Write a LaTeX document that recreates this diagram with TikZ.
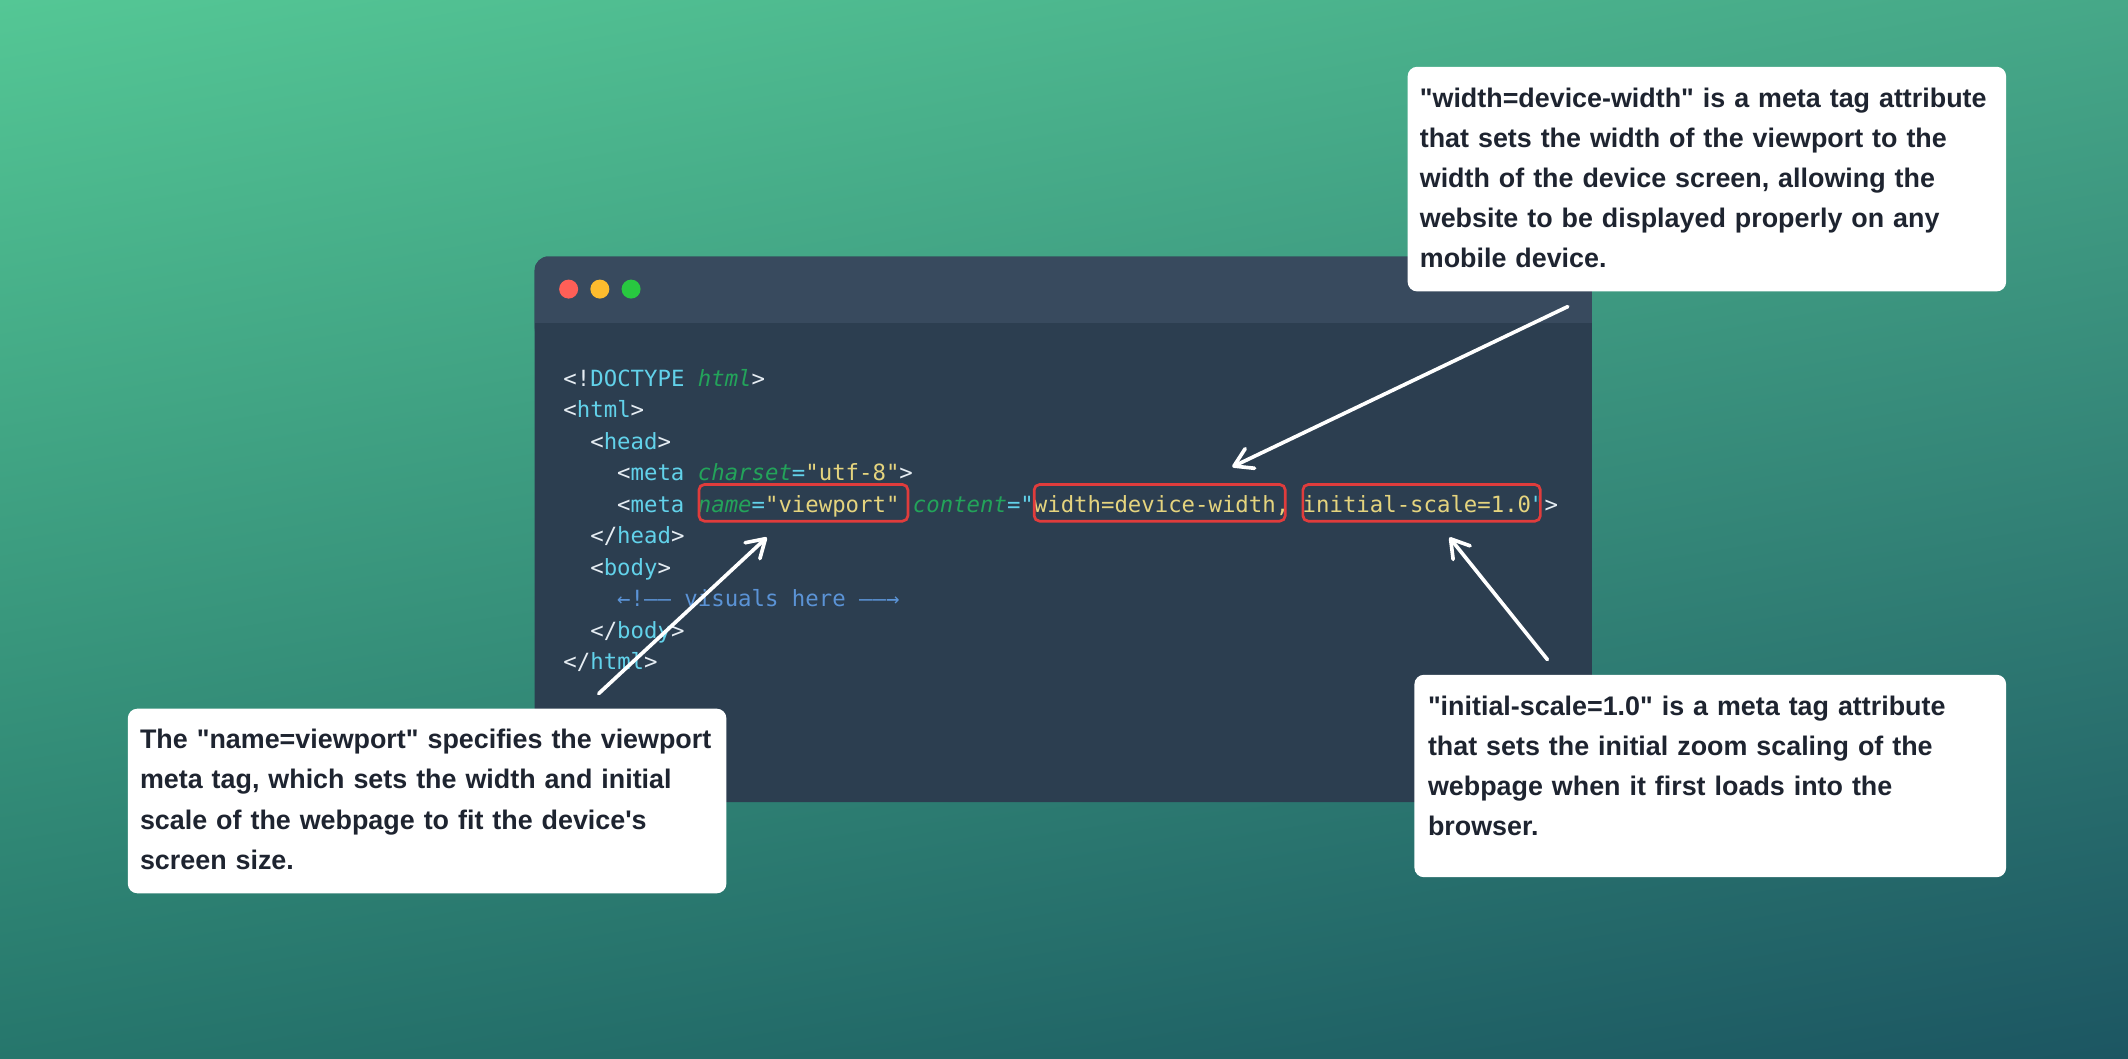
\documentclass[tikz,border=0pt]{standalone}
\usepackage{fontspec}
\usetikzlibrary{arrows.meta,shadings}

\newfontfamily\codefont{DejaVu Sans Mono}
\newfontfamily\notefont{Liberation Sans}

\definecolor{bgTL}{RGB}{84,199,149}
\definecolor{bgTR}{RGB}{70,168,136}
\definecolor{bgBL}{RGB}{38,118,108}
\definecolor{bgBR}{RGB}{28,86,98}
\definecolor{wintitle}{RGB}{56,74,94}
\definecolor{winbody}{RGB}{44,62,80}
\definecolor{dotred}{RGB}{255,95,87}
\definecolor{dotyellow}{RGB}{254,188,46}
\definecolor{dotgreen}{RGB}{40,200,64}
\definecolor{codepun}{RGB}{230,237,243}
\definecolor{codetag}{RGB}{98,210,234}
\definecolor{codeattr}{RGB}{35,163,90}
\definecolor{codestr}{RGB}{229,212,126}
\definecolor{codecom}{RGB}{91,147,214}
\definecolor{hired}{RGB}{224,60,60}
\definecolor{notetext}{RGB}{30,36,48}

\newcommand{\cpun}[1]{\textcolor{codepun}{#1}}
\newcommand{\ctag}[1]{\textcolor{codetag}{#1}}
\newcommand{\cattr}[1]{\textcolor{codeattr}{\itshape #1}}
\newcommand{\cstr}[1]{\textcolor{codestr}{#1}}

\tikzset{
  codeline/.style={anchor=base west, inner sep=0pt, font=\codefont\fontsize{16.45}{23}\selectfont},
  hilite/.style={draw=hired, line width=2pt, rounded corners=4pt, minimum height=27pt},
  note/.style={fill=white, rounded corners=7pt, anchor=north west, inner xsep=9pt, inner ysep=9pt,
    align=left, text=notetext, font=\notefont\bfseries\fontsize{19.8}{29.5}\selectfont},
  pointer/.style={draw=white, line width=2.7pt, line cap=round,
    -{Straight Barb[length=13pt,width=16pt,round]}}
}

\begin{document}
\begin{tikzpicture}[x=1pt,y=-1pt]
    \useasboundingbox (0,0) rectangle (1568,780);
    \shade[upper left=bgTL, upper right=bgTR, lower left=bgBL, lower right=bgBR] (0,0) rectangle (1568,780);

    % editor window
    \fill[winbody, rounded corners=10pt] (394,189) rectangle (1173,591);
    \fill[wintitle, rounded corners=10pt] (394,189) rectangle (1173,252);
    \fill[winbody] (394,238) rectangle (1173,256);
    \fill[dotred] (419,213) circle[radius=7pt];
    \fill[dotyellow] (442,213) circle[radius=7pt];
    \fill[dotgreen] (465,213) circle[radius=7pt];

    % code
    \node[codeline] (l1) at (415,284.6) {\cpun{<!}\ctag{DOCTYPE} \cattr{html}\cpun{>}};
    \node[codeline] (l2) at (415,307.8) {\cpun{<}\ctag{html}\cpun{>}};
    \node[codeline] (l3) at (434.8,331.0) {\cpun{<}\ctag{head}\cpun{>}};
    \node[codeline] (l4) at (454.6,354.3) {\cpun{<}\ctag{meta} \cattr{charset}\ctag{=}\cstr{"utf-8"}\cpun{>}};
    \node[codeline] (l5) at (454.6,377.5) {\cpun{<}\ctag{meta} \cattr{name}\ctag{=}\cstr{"viewport"} \cattr{content}\ctag{="}\cstr{width=device-width, initial-scale=1.0}\ctag{"}\cpun{>}};
    \node[codeline] (l6) at (434.8,400.7) {\cpun{</}\ctag{head}\cpun{>}};
    \node[codeline] (l7) at (434.8,424.0) {\cpun{<}\ctag{body}\cpun{>}};
    \node[codeline] (l8) at (454.6,447.2) {\textcolor{codecom}{←!—— visuals here ——→}};
    \node[codeline] (l9) at (434.8,470.4) {\cpun{</}\ctag{body}\cpun{>}};
    \node[codeline] (l10) at (415,493.6) {\cpun{</}\ctag{html}\cpun{>}};

    \node[hilite, minimum width=154pt] (boxName) at (592,370.5) {};
    \node[hilite, minimum width=185pt] (boxWidth) at (854.5,370.5) {};
    \node[hilite, minimum width=175pt] (boxScale) at (1047.5,370.5) {};

    % notes
    \node[note, text width=423pt] (noteWidth) at (1037,49) {\strut"width=device-width" is a meta tag attribute\\
      that sets the width of the viewport to the\\
      width of the device screen, allowing the\\
      website to be displayed properly on any\\
      mobile device.\strut};
    \node[note, text width=416pt, inner xsep=10pt] (noteScale) at (1042,497) {\strut"initial-scale=1.0" is a meta tag attribute\\
      that sets the initial zoom scaling of the\\
      webpage when it first loads into the\\
      browser.\rule[-22pt]{0pt}{1pt}};
    \node[note, text width=423pt] (noteName) at (94,522) {\strut The "name=viewport" specifies the viewport\\
      meta tag, which sets the width and initial\\
      scale of the webpage to fit the device's\\
      screen size.\strut};

    \draw[pointer] ([shift={(-102.5,11)}]noteWidth.south) -- ([shift={(53.5,-12)}]boxWidth.north);
    \draw[pointer] ([shift={(-120,-11)}]noteScale.north) -- ([shift={(20.5,11)}]boxScale.south);
    \draw[pointer] ([shift={(126.5,-11)}]noteName.north) -- ([shift={(-27,11)}]boxName.south);
\end{tikzpicture}
\end{document}
